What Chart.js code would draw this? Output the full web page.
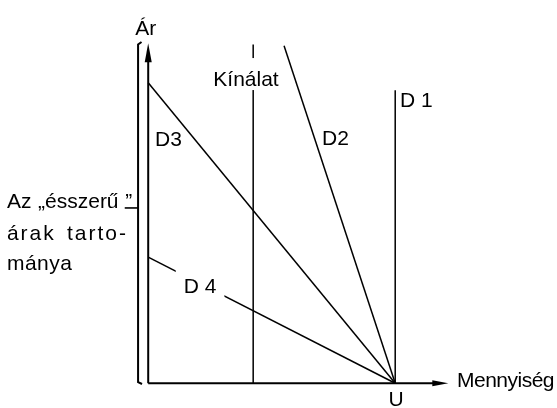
<!DOCTYPE html>
<html>
<head>
<meta charset="utf-8">
<script src="https://cdn.jsdelivr.net/npm/chart.js@4/dist/chart.umd.min.js"></script>
<style>
  body { margin: 0; background: #fff; }
  #grafico { display: block; }
</style>
</head>
<body>
<canvas id="grafico" width="557" height="408"></canvas>
<script>
// Keresleti görbék (D1-D4) és a kínálat: kezdőpont -> végpont (mennyiség, ár)
const curveNames = ['D 1', 'D2', 'D3', 'D 4', 'Kínálat'];
const startQ = [10, 5.5, 0, 0, 4.25];
const startP = [11.85, 13.65, 12.15, 5.1, 13.7];
const endQ = [10, 10, 10, 10, 4.25];
const endP = [0, 0, 0, 0, 0];

// tengelyek
const axisNames = ['Mennyiség', 'Ár'];
const axisMaxQ = 12.15;
const axisMaxP = 13.75;
const pointU = 'U';

// az "ésszerű" árak tartománya
const rangeText = ['Az „ésszerű ”', 'árak tarto-', 'mánya'];
const rangeP = [0, 13.7];
const rangeMarkP = 7.09;

const FONT = '21px "Liberation Sans", Arial, sans-serif';

const line = (points, width) => ({
    data: points,
    showLine: true,
    borderColor: '#000',
    borderWidth: width,
    pointRadius: 0,
    fill: false,
    tension: 0
});

const datasets = [];
// tengelyek
datasets.push(line([{x: 0, y: 0}, {x: 0, y: axisMaxP - 0.4}], 2));
datasets.push(line([{x: 0, y: 0}, {x: axisMaxQ - 0.4, y: 0}], 2));
// zárójel
datasets.push(line([
    {x: -0.27, y: rangeP[1] + 0.1},
    {x: -0.41, y: rangeP[1]},
    {x: -0.41, y: rangeP[0] + 0.05},
    {x: -0.25, y: rangeP[0] - 0.03}
], 2));
datasets.push(line([{x: -0.95, y: rangeMarkP}, {x: -0.41, y: rangeMarkP}], 1.6));
// görbék
curveNames.forEach((n, i) => {
    datasets.push(line([{x: startQ[i], y: startP[i]}, {x: endQ[i], y: endP[i]}], 1.5));
});

const fillJustified = (ctx, text, x, y, width) => {
    const words = text.split(' ');
    if (!width || words.length < 2) { ctx.fillText(text, x, y); return; }
    const used = words.reduce((s, w) => s + ctx.measureText(w).width, 0);
    const gap = (width - used) / (words.length - 1);
    let cx = x;
    words.forEach(w => { ctx.fillText(w, cx, y); cx += ctx.measureText(w).width + gap; });
};

const diagramPlugin = {
    id: 'diagram',
    beforeDraw: chart => {
        const ctx = chart.ctx;
        ctx.save();
        ctx.fillStyle = '#fff';
        ctx.fillRect(0, 0, chart.width, chart.height);
        ctx.restore();
    },
    afterDatasetsDraw: chart => {
        const ctx = chart.ctx;
        const sx = chart.scales.x, sy = chart.scales.y;
        const px = q => sx.getPixelForValue(q);
        const py = p => sy.getPixelForValue(p);
        ctx.save();
        ctx.fillStyle = '#000';

        // nyilak
        const ox = px(0), oy = py(0);
        const ty = py(axisMaxP);
        ctx.beginPath();
        ctx.moveTo(ox, ty);
        ctx.lineTo(ox - 3.5, ty + 19);
        ctx.lineTo(ox + 3.5, ty + 19);
        ctx.closePath();
        ctx.fill();
        const tx = px(axisMaxQ);
        ctx.beginPath();
        ctx.moveTo(tx, oy);
        ctx.lineTo(tx - 16, oy - 3);
        ctx.lineTo(tx - 16, oy + 3);
        ctx.closePath();
        ctx.fill();

        ctx.font = FONT;
        ctx.textBaseline = 'alphabetic';

        // feliratok, amelyek megszakítják a vonalat
        const boxed = (text, q, p, padX) => {
            const w = ctx.measureText(text).width;
            const x = px(q), y = py(p);
            ctx.fillStyle = '#fff';
            ctx.fillRect(x - w / 2 - padX, y - 28, w + padX * 2, 32);
            ctx.fillStyle = '#000';
            ctx.textAlign = 'center';
            ctx.fillText(text, x, y);
        };
        boxed(curveNames[4], 3.96, 12.02, 1);
        boxed(curveNames[3], 2.1, 3.65, 8);

        ctx.textAlign = 'left';
        ctx.fillText(curveNames[0], px(10.19), py(11.17));
        ctx.fillText(curveNames[1], px(7.04), py(9.64));
        ctx.fillText(curveNames[2], px(0.28), py(9.6));

        ctx.letterSpacing = '-0.5px';
        ctx.fillText(axisNames[0], px(12.5), py(-0.15));
        ctx.letterSpacing = '0px';
        ctx.textAlign = 'center';
        ctx.fillText(axisNames[1], px(-0.1), py(14.08));
        ctx.fillText(pointU, px(10.04), py(-0.92));

        ctx.textAlign = 'left';
        const left = px(-5.72);
        fillJustified(ctx, rangeText[0], left, py(7.08), px(-0.65) - left);
        ctx.letterSpacing = '2px';
        fillJustified(ctx, rangeText[1], left, py(5.79), px(-0.82) - left);
        ctx.letterSpacing = '0.5px';
        fillJustified(ctx, rangeText[2], left, py(4.58), 0);
        ctx.restore();
    }
};

const ctx = document.getElementById('grafico');
const grafico = new Chart(ctx, {
    type: 'scatter',
    data: { datasets: datasets },
    options: {
        responsive: false,
        animation: false,
        layout: { padding: 0 },
        plugins: {
            legend: { display: false },
            tooltip: { enabled: false }
        },
        scales: {
            x: { type: 'linear', min: -6, max: 16.55, display: false },
            y: { type: 'linear', min: -1, max: 15.5, display: false }
        }
    },
    plugins: [diagramPlugin]
});
</script>
</body>
</html>
